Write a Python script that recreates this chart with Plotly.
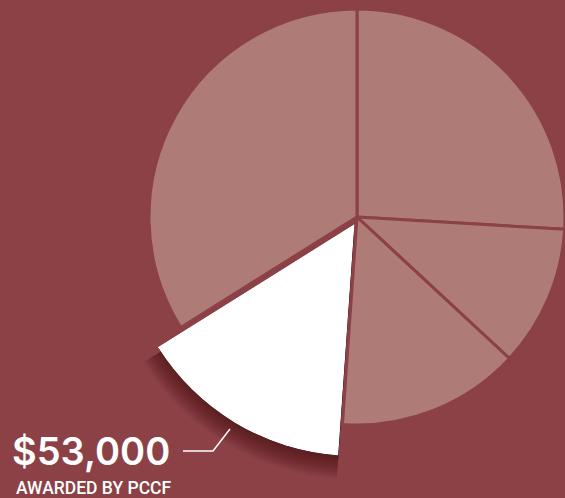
import math
import plotly.graph_objects as go

# ---- data (thousands of dollars, clockwise from 12 o'clock) ----
categories = ["Grant A", "Grant B", "Grant C", "Awarded by PCCF", "Grant D"]
values = [91.8, 38.8, 50.3, 53.0, 120.0]
highlight_index = 3
label_amount = "$53,000"
label_caption = "AWARDED BY PCCF"

BG = "#8B4146"
PINK = "#AE7B76"
W, H = 565, 498

fig = go.Figure()

# cumulative angles (clockwise from top) for the highlighted slice
total = sum(values)
a0 = sum(values[:highlight_index]) / total * 360.0
a1 = a0 + values[highlight_index] / total * 360.0
m_start = 90.0 - a1
m_end = 90.0 - a0
sector = [m_start % 360, (m_start % 360) + (m_end - m_start)]
mid = (sector[0] + sector[1]) / 2.0
span = sector[1] - sector[0]


def sector_bbox(sec):
    xs, ys = [0.0], [0.0]
    n = 400
    for i in range(n + 1):
        t = math.radians(sec[0] + (sec[1] - sec[0]) * i / n)
        xs.append(math.cos(t))
        ys.append(math.sin(t))
    return min(xs), min(ys), max(xs), max(ys)


bx0, by0, bx1, by1 = sector_bbox(sector)


def polar_domain(cx, cy, R):
    left = cx + bx0 * R
    right = cx + bx1 * R
    top = cy - by1 * R
    bottom = cy - by0 * R
    return dict(x=[left / W, right / W], y=[1 - bottom / H, 1 - top / H])


def hidden_polar(domain, rmax):
    return dict(
        domain=domain, sector=sector, bgcolor="rgba(0,0,0,0)",
        radialaxis=dict(visible=False, range=[0, rmax]),
        angularaxis=dict(visible=False),
        barmode="overlay", bargap=0,
    )


# enlarged highlighted slice (pixel centre / radius)
hx, hy, HR = 354.5, 224.0, 232.0

# soft drop shadow: one polar, many translucent overlapping bars
sh_dx, sh_dy = 0.0, 6.0
shadow_grow = list(range(-10, 18))
RMAX = HR + 20
for g in shadow_grow:
    fig.add_trace(go.Barpolar(
        r=[HR + g], theta=[mid], width=[span],
        marker=dict(color="rgba(30,5,10,0.022)", line=dict(width=0)),
        subplot="polar", hoverinfo="skip", showlegend=False,
    ))
fig.layout["polar"] = hidden_polar(polar_domain(hx + sh_dx, hy + sh_dy, RMAX), RMAX)

# white slice
fig.add_trace(go.Barpolar(
    r=[HR], theta=[mid], width=[span],
    marker=dict(color="#FFFFFF", line=dict(width=0)),
    subplot="polar2", hoverinfo="skip", showlegend=False,
))
fig.layout["polar2"] = hidden_polar(polar_domain(hx, hy, HR), HR)

# ---- main pie (highlight slice left transparent) ----
colors = [PINK] * len(values)
colors[highlight_index] = "rgba(0,0,0,0)"
line_w = [3] * len(values)
line_w[highlight_index] = 0
fig.add_trace(go.Pie(
    labels=categories, values=values, sort=False, direction="clockwise",
    rotation=0, textinfo="none", hoverinfo="skip", showlegend=False,
    marker=dict(colors=colors, line=dict(color=BG, width=line_w)),
    domain=dict(x=[149 / W, 1], y=[1 - 425 / H, 1 - 9 / H]),
))

# ---- label ----
fig.add_annotation(
    x=10 / W, y=1 - 451 / H, xref="paper", yref="paper", xanchor="left", yanchor="middle",
    text=label_amount, showarrow=False,
    font=dict(family="Inter", size=38, weight=600, color="white"),
)
fig.add_annotation(
    x=14 / W, y=1 - 487.5 / H, xref="paper", yref="paper", xanchor="left", yanchor="middle",
    text=label_caption, showarrow=False,
    font=dict(family="Roboto", size=17.5, weight=500, color="white"),
)
fig.add_shape(
    type="path", xref="paper", yref="paper",
    path=f"M {183 / W},{1 - 451 / H} L {213 / W},{1 - 451 / H} L {230 / W},{1 - 429 / H}",
    line=dict(color="white", width=1.5),
)

fig.update_layout(
    width=W, height=H, margin=dict(l=0, r=0, t=0, b=0),
    paper_bgcolor=BG, plot_bgcolor=BG, showlegend=False,
)

fig.write_html("out.html")
